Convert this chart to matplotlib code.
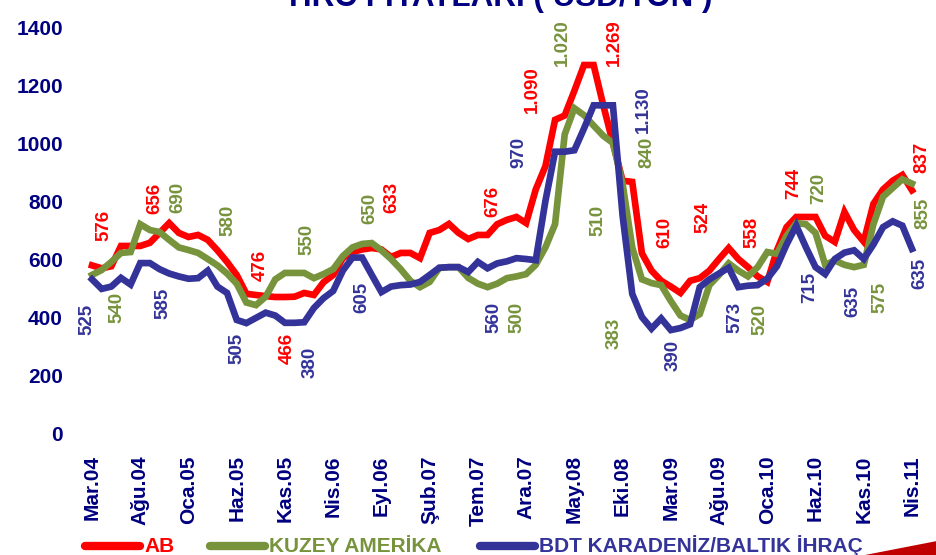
import numpy as np
import matplotlib
matplotlib.use('Agg')
import matplotlib.pyplot as plt
from matplotlib.patches import Polygon

plt.rcParams['font.family'] = ['Liberation Sans', 'DejaVu Sans']

#-------data (monthly, Mar.04 - Nis.11)

tick_labels = ['Mar.04', 'Ağu.04', 'Oca.05', 'Haz.05', 'Kas.05', 'Nis.06',
               'Eyl.06', 'Şub.07', 'Tem.07', 'Ara.07', 'May.08', 'Eki.08',
               'Mar.09', 'Ağu.09', 'Oca.10', 'Haz.10', 'Kas.10', 'Nis.11']

ab = [578, 568, 575, 645, 645, 645, 656, 690, 724, 690,
      676, 683, 666, 630, 590, 545, 480, 476, 472, 469,
      469, 470, 483, 476, 520, 545, 603, 624, 633, 638,
      633, 607, 621, 621, 603, 690, 700, 721, 690, 669,
      683, 683, 720, 735, 745, 724, 840, 920, 1080, 1095,
      1180, 1269, 1269, 1130, 1000, 870, 866, 620, 560, 525,
      505, 483, 525, 534, 560, 600, 638, 600, 572, 540,
      521, 630, 710, 745, 745, 745, 680, 659, 762, 700,
      660, 790, 840, 870, 890, 837]

kuzey = [545, 562, 590, 621, 624, 720, 700, 693, 666, 640,
         631, 621, 600, 578, 550, 515, 450, 441, 470, 530,
         552, 552, 552, 534, 548, 565, 610, 640, 652, 655,
         630, 600, 565, 525, 503, 521, 569, 572, 572, 535,
         515, 503, 515, 534, 540, 548, 580, 640, 720, 1030,
         1120, 1096, 1060, 1025, 1000, 860, 640, 530, 517, 510,
         455, 405, 390, 410, 510, 545, 585, 560, 540, 572,
         624, 618, 680, 724, 720, 690, 580, 595, 580, 572,
         580, 720, 815, 845, 875, 860]

bdt = [530, 497, 505, 535, 512, 586, 586, 565, 550, 540,
       532, 534, 560, 505, 483, 390, 379, 397, 415, 405,
       380, 380, 382, 431, 465, 490, 560, 605, 605, 545,
       486, 505, 510, 512, 521, 545, 570, 572, 572, 555,
       590, 568, 585, 592, 603, 600, 596, 800, 970, 970,
       975, 1050, 1130, 1130, 1130, 750, 480, 400, 360, 395,
       355, 362, 375, 503, 530, 550, 570, 503, 508, 510,
       532, 575, 650, 715, 641, 572, 548, 600, 622, 630,
       600, 650, 710, 730, 715, 635]

# value labels (text, x month index, y position)
ab_labels = [('576', 1.2, 717), ('656', 6.5, 810), ('476', 17.4, 579),
             ('466', 20.2, 293), ('633', 31.1, 814), ('676', 41.6, 797),
             ('1.090', 45.6, 1183), ('1.269', 54.2, 1345), ('610', 59.4, 690),
             ('524', 63.3, 745), ('558', 68.4, 693), ('744', 72.7, 862),
             ('837', 86.0, 952)]
kuzey_labels = [('540', 2.6, 434), ('690', 8.9, 814), ('580', 14.1, 734),
                ('550', 22.3, 666), ('650', 28.8, 776), ('500', 44.1, 397),
                ('1.020', 48.8, 1345), ('510', 52.5, 734), ('840', 57.5, 969),
                ('383', 54.1, 345), ('520', 69.2, 390), ('720', 75.3, 845),
                ('575', 81.7, 469), ('855', 86.1, 759)]
bdt_labels = [('525', -0.5, 390), ('585', 7.4, 448), ('505', 15.0, 293),
              ('380', 22.6, 245), ('605', 28.0, 466), ('560', 41.7, 397),
              ('970', 44.3, 966), ('1.130', 57.2, 1114), ('390', 60.2, 269),
              ('573', 66.7, 397), ('715', 74.4, 503), ('635', 78.9, 452),
              ('635', 85.8, 552)]

red = '#FF0000'
green = '#77933C'
blue = '#333399'
navy = '#000080'

#-------plot

fig = plt.figure(figsize=(9.37, 5.55), dpi=100)
ax = fig.add_axes([0.0879, 0.2198, 0.8957, 0.7315])

x = np.arange(len(ab))
ax.plot(x, ab, color=red, lw=4.8, solid_joinstyle='miter')
ax.plot(x, kuzey, color=green, lw=4.8, solid_joinstyle='miter')
ax.plot(x, bdt, color=blue, lw=4.8, solid_joinstyle='miter')

for labels, c in [(ab_labels, red), (kuzey_labels, green), (bdt_labels, blue)]:
    for t, lx, ly in labels:
        ax.text(lx, ly, t, color=c, rotation=90, ha='center', va='center',
                fontsize=13.5, fontweight='bold', clip_on=False)

ax.set_xlim(-1, 86)
ax.set_ylim(0, 1400)
ax.set_xticks(np.arange(0, 86, 5))
ax.set_xticklabels(tick_labels, rotation=90, fontsize=15, fontweight='bold', color=navy)
ax.set_yticks(np.arange(0, 1401, 200))
ax.set_yticklabels([str(v) for v in range(0, 1401, 200)], fontsize=15,
                   fontweight='bold', color=navy)
ax.tick_params(axis='both', length=0)
ax.tick_params(axis='y', pad=14)
ax.tick_params(axis='x', pad=16)
for s in ax.spines.values():
    s.set_visible(False)

# title (cut off at top in the original)
fig.text(0.534, 1 - 6 / 555, 'HRC FİYATLARI ( USD/TON )', ha='center', va='baseline',
         fontsize=22.6, fontweight='bold', color=navy)

# legend along the bottom edge
leg = [('AB', red, 85, 140), ('KUZEY AMERİKA', green, 210, 265),
       ('BDT KARADENİZ/BALTIK İHRAÇ', blue, 480, 535)]
for name, c, x0, x1 in leg:
    fig.add_artist(plt.Line2D([x0 / 937, x1 / 937], [1 - 546 / 555, 1 - 546 / 555],
                              color=c, lw=6, solid_capstyle='round'))
    fig.text((x1 + 4) / 937, 1 - 552 / 555, name, color=c, fontsize=15,
             fontweight='bold', ha='left', va='baseline')

# red swoosh bottom right
fig.add_artist(Polygon([[865 / 937, 0], [937 / 937, 14 / 555], [937 / 937, 0]],
                       closed=True, transform=fig.transFigure, color='#C00000', lw=0))

plt.savefig('out.png', dpi=100)
